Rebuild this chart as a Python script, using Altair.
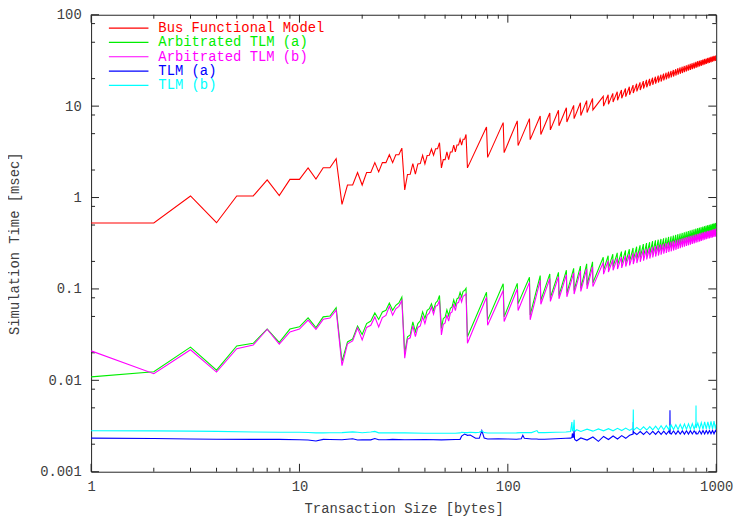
import altair as alt
import pandas as pd

# ---------------- data ----------------
x_main = [1, 2, 3, 4, 5, 6, 7, 8, 9, 10,
          11, 12, 13, 14, 15, 16, 17, 18, 19, 20,
          21, 22, 23, 24, 25, 26, 27, 28, 29, 30,
          31, 32, 33, 34, 35, 36, 37, 38, 39, 40,
          41, 42, 43, 44, 45, 46, 47, 48, 49, 50,
          51, 52, 53, 54, 55, 56, 57, 58, 59, 60,
          61, 62, 63, 64,
          79, 80, 95, 96, 111, 112, 127, 128, 143, 144, 159, 160,
          175, 176, 191, 192, 207, 208, 223, 224, 239, 240, 255, 256,
          287, 288, 303, 304, 319, 320, 335, 336, 351, 352,
          367, 368, 383, 384, 399, 400, 415, 416, 431, 432,
          447, 448, 463, 464, 479, 480, 495, 496, 511, 512,
          527, 528, 543, 544, 559, 560, 575, 576, 591, 592,
          607, 608, 623, 624, 639, 640, 655, 656, 671, 672,
          687, 688, 703, 704, 719, 720, 735, 736, 751, 752,
          767, 768, 783, 784, 799, 800, 815, 816, 831, 832,
          847, 848, 863, 864, 879, 880, 895, 896, 911, 912,
          927, 928, 943, 944, 959, 960, 975, 976, 991, 992,
          1000]

bus_functional = [0.527, 0.527, 1.04, 0.53, 1.04, 1.04, 1.56, 1.05, 1.58, 1.58,
                  2.11, 1.59, 2.12, 2.12, 2.66, 0.84, 1.37, 1.37, 1.88, 1.37,
                  1.88, 1.88, 2.41, 1.91, 2.41, 2.41, 2.94, 2.41, 2.94, 2.94,
                  3.47, 1.21, 1.79, 1.80, 2.35, 1.80, 2.33, 2.35, 2.90, 2.33,
                  2.88, 2.90, 3.40, 2.90, 3.42, 3.42, 3.98, 2.11, 2.60, 2.60,
                  3.15, 2.60, 3.15, 3.15, 3.75, 3.15, 3.75, 3.75, 4.35, 3.75,
                  4.35, 4.35, 4.90, 2.11,
                  5.9, 2.75, 6.6, 3.1, 6.9, 3.7, 7.3, 4.3, 7.8, 4.9, 8.4, 5.5,
                  9.0, 6.1, 9.6, 6.7, 10.2, 7.3, 10.9, 7.9, 11.5, 8.5, 12.1, 9.1,
                  12.8, 10.0, 13.3, 10.5, 13.8, 11.1, 14.4, 11.6, 15.0, 12.2,
                  15.6, 12.7, 16.3, 13.3, 17.0, 13.9, 17.6, 14.5, 18.2, 15.0,
                  18.8, 15.6, 19.4, 16.1, 19.9, 16.6, 20.5, 17.1, 21.0, 17.6,
                  21.6, 18.1, 22.1, 18.6, 22.7, 19.1, 23.2, 19.6, 23.8, 20.1,
                  24.3, 20.6, 24.9, 21.1, 25.4, 21.6, 26.0, 22.1, 26.5, 22.6,
                  27.0, 23.0, 27.5, 23.5, 28.0, 24.0, 28.5, 24.5, 29.0, 24.9,
                  29.5, 25.4, 30.0, 25.8, 30.5, 26.3, 31.0, 26.7, 31.4, 27.2,
                  31.9, 27.6, 32.3, 28.1, 32.8, 28.5, 33.2, 29.0, 33.7, 29.4,
                  34.1, 29.8, 34.6, 30.2, 35.0, 30.6, 35.4, 31.0, 35.8, 31.3,
                  33.5]

arbitrated_a = [0.0109, 0.0124, 0.0231, 0.0129, 0.0238, 0.0254, 0.0364, 0.0260, 0.0364, 0.0385,
                0.0482, 0.0377, 0.0495, 0.0506, 0.0624, 0.0161, 0.0263, 0.0283, 0.0393, 0.0318,
                0.0418, 0.0445, 0.0546, 0.0464, 0.0560, 0.0584, 0.0702, 0.0584, 0.0662, 0.0702,
                0.0813, 0.0198, 0.0300, 0.0313, 0.0437, 0.0340, 0.0418, 0.0448, 0.0560, 0.0475,
                0.0584, 0.0607, 0.0688, 0.0584, 0.0702, 0.0738, 0.0848, 0.0370, 0.0475, 0.0490,
                0.0590, 0.0510, 0.0615, 0.0635, 0.0760, 0.0660, 0.0780, 0.0800, 0.0920, 0.0820,
                0.0940, 0.0960, 0.1018, 0.0300,
                0.092, 0.0456, 0.114, 0.0495, 0.115, 0.069, 0.134, 0.052, 0.140, 0.075, 0.146, 0.080,
                0.152, 0.085, 0.160, 0.090, 0.168, 0.096, 0.178, 0.102, 0.188, 0.110, 0.198, 0.117,
                0.222, 0.160, 0.231, 0.168, 0.240, 0.175, 0.248, 0.182, 0.256, 0.188,
                0.264, 0.194, 0.272, 0.200, 0.281, 0.207, 0.290, 0.214, 0.300, 0.221,
                0.310, 0.228, 0.318, 0.234, 0.325, 0.240, 0.333, 0.246, 0.340, 0.252,
                0.346, 0.258, 0.352, 0.264, 0.358, 0.270, 0.364, 0.276, 0.371, 0.282,
                0.377, 0.288, 0.384, 0.294, 0.390, 0.300, 0.397, 0.306, 0.403, 0.312,
                0.410, 0.318, 0.416, 0.324, 0.423, 0.330, 0.430, 0.336, 0.437, 0.342,
                0.443, 0.348, 0.450, 0.354, 0.456, 0.360, 0.462, 0.366, 0.468, 0.372,
                0.474, 0.378, 0.480, 0.384, 0.486, 0.390, 0.492, 0.396, 0.498, 0.402,
                0.503, 0.408, 0.509, 0.414, 0.515, 0.420, 0.521, 0.426, 0.527, 0.432,
                0.49]

arbitrated_b = [0.0210, 0.0118, 0.0216, 0.0123, 0.0222, 0.0243, 0.0362, 0.0249, 0.0339, 0.0364,
                0.0456, 0.0362, 0.0465, 0.0480, 0.0585, 0.0145, 0.0251, 0.0270, 0.0376, 0.0277,
                0.0379, 0.0400, 0.0494, 0.0384, 0.0485, 0.0513, 0.0645, 0.0516, 0.0607, 0.0645,
                0.0748, 0.0175, 0.0281, 0.0292, 0.0394, 0.0300, 0.0379, 0.0394, 0.0494, 0.0418,
                0.0516, 0.0546, 0.0634, 0.0530, 0.0645, 0.0662, 0.0748, 0.0313, 0.0410, 0.0425,
                0.0520, 0.0445, 0.0545, 0.0560, 0.0680, 0.0580, 0.0700, 0.0710, 0.0820, 0.0720,
                0.0830, 0.0850, 0.0885, 0.0254,
                0.081, 0.040, 0.096, 0.044, 0.100, 0.058, 0.118, 0.046, 0.124, 0.068, 0.130, 0.073,
                0.136, 0.078, 0.143, 0.082, 0.150, 0.088, 0.158, 0.094, 0.166, 0.100, 0.175, 0.106,
                0.195, 0.145, 0.203, 0.153, 0.210, 0.160, 0.217, 0.165, 0.224, 0.170,
                0.231, 0.176, 0.238, 0.181, 0.245, 0.187, 0.252, 0.192, 0.260, 0.198,
                0.268, 0.204, 0.275, 0.210, 0.282, 0.215, 0.289, 0.221, 0.295, 0.226,
                0.301, 0.232, 0.307, 0.237, 0.313, 0.243, 0.318, 0.248, 0.324, 0.253,
                0.330, 0.258, 0.336, 0.263, 0.341, 0.268, 0.347, 0.274, 0.352, 0.279,
                0.358, 0.285, 0.363, 0.290, 0.369, 0.295, 0.374, 0.300, 0.380, 0.305,
                0.385, 0.310, 0.391, 0.315, 0.396, 0.320, 0.401, 0.325, 0.406, 0.330,
                0.411, 0.335, 0.416, 0.340, 0.421, 0.345, 0.426, 0.350, 0.431, 0.354,
                0.436, 0.358, 0.441, 0.362, 0.446, 0.366, 0.452, 0.370, 0.458, 0.374,
                0.43]

x_tlm = [1, 2, 3, 4, 6, 8, 10, 11, 12, 13,
         14, 16, 18, 19, 20, 22, 23, 24, 26, 28,
         32, 40, 48, 56, 59, 60, 62, 64, 66, 70,
         73, 75, 77, 80, 90, 100, 110, 116, 118, 120,
         130, 138, 140, 150, 170, 190, 200, 203, 204, 206,
         208, 209, 211, 214, 224, 240, 256, 272, 288, 304,
         320, 336, 352, 368, 384, 399, 400, 401, 402, 416,
         432, 448, 464, 480, 496, 512, 528, 544, 560, 576,
         592, 599, 600, 601, 608, 624, 640, 656, 672, 688,
         704, 720, 736, 752, 768, 784, 799, 800, 801, 816,
         832, 848, 864, 880, 896, 912, 928, 944, 960, 976,
         992, 1000]

tlm_a = [0.00233, 0.00231, 0.00228, 0.00227, 0.00226, 0.00226, 0.00224, 0.00222, 0.00217, 0.00226,
         0.00225, 0.00224, 0.00229, 0.00222, 0.00224, 0.00223, 0.00231, 0.00224, 0.00224, 0.00226,
         0.00224, 0.00225, 0.00223, 0.00225, 0.00226, 0.00245, 0.00258, 0.00250, 0.00252, 0.00232,
         0.00232, 0.00282, 0.00234, 0.00228, 0.00229, 0.00228, 0.00227, 0.00229, 0.00250, 0.00232,
         0.00228, 0.00228, 0.00227, 0.00227, 0.00229, 0.00232, 0.00233, 0.00236, 0.00262, 0.00235,
         0.00285, 0.00228, 0.00222, 0.00218, 0.00234, 0.00222, 0.00240, 0.00215, 0.00243, 0.00225,
         0.00246, 0.00228, 0.00248, 0.00232, 0.00250, 0.00258, 0.00350, 0.00262, 0.00270, 0.00255,
         0.00275, 0.00256, 0.00276, 0.00255, 0.00277, 0.00256, 0.00278, 0.00256, 0.00278, 0.00257,
         0.00279, 0.00262, 0.00470, 0.00265, 0.00258, 0.00279, 0.00257, 0.00280, 0.00258, 0.00280,
         0.00258, 0.00281, 0.00258, 0.00281, 0.00259, 0.00281, 0.00262, 0.00275, 0.00262, 0.00259,
         0.00282, 0.00259, 0.00282, 0.00259, 0.00282, 0.00260, 0.00283, 0.00260, 0.00283, 0.00260,
         0.00283, 0.00272]

tlm_b = [0.00281, 0.00280, 0.00278, 0.00276, 0.00272, 0.00270, 0.00270, 0.00269, 0.00266, 0.00266,
         0.00267, 0.00268, 0.00273, 0.00270, 0.00267, 0.00272, 0.00276, 0.00266, 0.00266, 0.00266,
         0.00266, 0.00264, 0.00264, 0.00264, 0.00266, 0.00270, 0.00268, 0.00268, 0.00270, 0.00268,
         0.00270, 0.00280, 0.00268, 0.00265, 0.00265, 0.00265, 0.00266, 0.00268, 0.00268, 0.00268,
         0.00268, 0.00282, 0.00268, 0.00268, 0.00270, 0.00272, 0.00275, 0.00350, 0.00280, 0.00282,
         0.00370, 0.00285, 0.00278, 0.00288, 0.00276, 0.00292, 0.00278, 0.00294, 0.00280, 0.00296,
         0.00280, 0.00298, 0.00282, 0.00300, 0.00283, 0.00300, 0.00480, 0.00300, 0.00285, 0.00305,
         0.00285, 0.00310, 0.00286, 0.00312, 0.00287, 0.00315, 0.00288, 0.00318, 0.00288, 0.00320,
         0.00289, 0.00322, 0.00300, 0.00290, 0.00324, 0.00290, 0.00326, 0.00290, 0.00330, 0.00291,
         0.00332, 0.00291, 0.00334, 0.00292, 0.00336, 0.00292, 0.00340, 0.00530, 0.00300, 0.00340,
         0.00293, 0.00345, 0.00293, 0.00350, 0.00294, 0.00352, 0.00294, 0.00355, 0.00295, 0.00358,
         0.00295, 0.00330]

series_names = ["Bus Functional Model", "Arbitrated TLM (a)", "Arbitrated TLM (b)",
                "TLM (a)", "TLM (b)"]
series_colors = ["#ff0000", "#00ee00", "#ff00ff", "#0000ff", "#00ffff"]

x_major = [1, 10, 100, 1000]
x_minor = [2, 3, 4, 5, 6, 7, 8, 9, 20, 30, 40, 50, 60, 70, 80, 90,
           200, 300, 400, 500, 600, 700, 800, 900]
y_major = [0.001, 0.01, 0.1, 1, 10, 100]
y_minor = [0.002, 0.005, 0.008, 0.02, 0.05, 0.08, 0.2, 0.5, 0.8,
           2, 5, 8, 20, 50, 80]

# ---------------- chart ----------------
W, H = 632, 462
FONT = "Liberation Mono"
TXT = "#404040"
FRAME = "#222222"

xs = alt.Scale(type="log", domain=[1, 1000], nice=False)
ys = alt.Scale(type="log", domain=[0.001, 100], nice=False)

x_axis = alt.Axis(values=x_major, format="~g", title="Transaction Size [bytes]",
                  ticks=False, domain=False, grid=False, labelOverlap=False, labelFlush=False,
                  labelFont=FONT, labelFontSize=14, labelColor=TXT, labelPadding=8,
                  titleFont=FONT, titleFontSize=14, titleFontWeight="normal", titleColor=TXT,
                  titleX=W / 2, titleY=37, titleBaseline="middle", titleAlign="center")
y_axis = alt.Axis(values=y_major, format="~g", title="Simulation Time [msec]",
                  ticks=False, domain=False, grid=False, labelOverlap=False, labelFlush=False,
                  labelFont=FONT, labelFontSize=14, labelColor=TXT, labelPadding=10,
                  titleFont=FONT, titleFontSize=14, titleFontWeight="normal", titleColor=TXT,
                  titleX=-77, titleY=H / 2, titleAngle=270, titleBaseline="middle",
                  titleAlign="center")


def series_line(xv, yv, color):
    df = pd.DataFrame({"x": xv, "y": yv})
    return alt.Chart(df).mark_line(color=color, strokeWidth=1.1, clip=True).encode(
        x=alt.X("x:Q", scale=xs, axis=x_axis),
        y=alt.Y("y:Q", scale=ys, axis=y_axis),
    )


def xticks(vals, length):
    df = pd.DataFrame({"x": vals})
    base = alt.Chart(df).mark_rule(color=FRAME, strokeWidth=1)
    bottom = base.encode(x=alt.X("x:Q", scale=xs, axis=x_axis),
                         y=alt.value(H), y2=alt.value(H - length))
    top = base.encode(x=alt.X("x:Q", scale=xs, axis=x_axis),
                      y=alt.value(0), y2=alt.value(length))
    return [bottom, top]


def yticks(vals, length):
    df = pd.DataFrame({"y": vals})
    base = alt.Chart(df).mark_rule(color=FRAME, strokeWidth=1)
    left = base.encode(y=alt.Y("y:Q", scale=ys, axis=y_axis),
                       x=alt.value(0), x2=alt.value(length))
    right = base.encode(y=alt.Y("y:Q", scale=ys, axis=y_axis),
                        x=alt.value(W), x2=alt.value(W - length))
    return [left, right]


lines = [
    series_line(x_main, bus_functional, series_colors[0]),
    series_line(x_main, arbitrated_a, series_colors[1]),
    series_line(x_main, arbitrated_b, series_colors[2]),
    series_line(x_tlm, tlm_a, series_colors[3]),
    series_line(x_tlm, tlm_b, series_colors[4]),
]

ticks = xticks(x_major, 8) + xticks(x_minor, 4) + yticks(y_major, 8) + yticks(y_minor, 4)

legend_df = pd.DataFrame({"name": series_names, "row": list(range(len(series_names)))})
color_scale = alt.Scale(domain=series_names, range=series_colors)
legend_base = alt.Chart(legend_df).transform_calculate(ypix="13.5 + 14.5 * datum.row")
legend_rules = legend_base.mark_rule(strokeWidth=1.2).encode(
    x=alt.value(18), x2=alt.value(58),
    y=alt.Y("ypix:Q", scale=None),
    color=alt.Color("name:N", scale=color_scale, legend=None),
)
legend_text = legend_base.mark_text(align="left", baseline="middle", font=FONT,
                                    fontSize=14).encode(
    x=alt.value(68),
    y=alt.Y("ypix:Q", scale=None),
    text="name:N",
    color=alt.Color("name:N", scale=color_scale, legend=None),
)

chart = alt.layer(*ticks, *lines, legend_rules, legend_text).properties(
    width=W, height=H,
    autosize=alt.AutoSizeParams(type="none"),
    padding={"left": 84, "top": 4, "right": 19, "bottom": 46},
    background="white",
).configure_view(stroke=FRAME, strokeWidth=1)

chart.save("out.html", embed_options={"renderer": "svg", "actions": False})
